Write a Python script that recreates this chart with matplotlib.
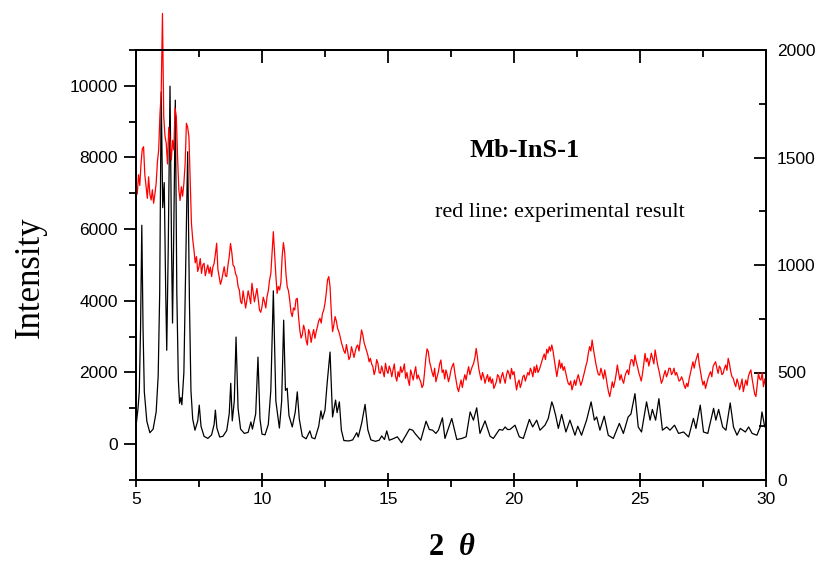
import matplotlib.pyplot as plt
import numpy as np
from matplotlib.ticker import MultipleLocator

plt.rcParams['font.family'] = 'Liberation Sans'

# simulated pattern (black, left axis): 2theta / intensity
black_x = [5.00, 5.08, 5.13, 5.18, 5.23, 5.28, 5.33, 5.43, 5.55, 5.68, 5.80, 5.88, 5.94,
           6.00, 6.06, 6.12, 6.18, 6.22, 6.28, 6.35, 6.41, 6.45, 6.50, 6.56, 6.62, 6.68,
           6.73, 6.78, 6.82, 6.90, 6.97, 7.05, 7.12, 7.18, 7.25, 7.34, 7.45, 7.51, 7.58,
           7.70, 7.85, 8.00, 8.10, 8.15, 8.21, 8.32, 8.45, 8.60, 8.70, 8.76, 8.82, 8.90,
           8.97, 9.05, 9.15, 9.30, 9.45, 9.56, 9.62, 9.75, 9.84, 9.92, 10.00, 10.12, 10.25,
           10.35, 10.45, 10.55, 10.69, 10.78, 10.86, 10.93, 11.00, 11.07, 11.20, 11.32,
           11.40, 11.48, 11.60, 11.75, 11.90, 11.98, 12.10, 12.25, 12.34, 12.40, 12.50,
           12.59, 12.70, 12.80, 12.92, 12.98, 13.07, 13.15, 13.25, 13.45, 13.60, 13.76,
           13.82, 13.96, 14.09, 14.20, 14.32, 14.50, 14.65, 14.75, 14.86, 14.95, 15.05,
           15.20, 15.37, 15.54, 15.85, 15.98, 16.07, 16.30, 16.51, 16.64, 16.77, 16.90,
           17.00, 17.16, 17.26, 17.53, 17.73, 17.93, 18.10, 18.26, 18.39, 18.52, 18.65,
           18.85, 19.05, 19.18, 19.42, 19.55, 19.65, 19.74, 19.84, 20.04, 20.21, 20.37,
           20.61, 20.74, 20.90, 21.03, 21.23, 21.36, 21.50, 21.56, 21.65, 21.76, 21.89,
           22.06, 22.22, 22.42, 22.53, 22.68, 22.88, 23.06, 23.19, 23.28, 23.41, 23.58,
           23.74, 23.94, 24.18, 24.34, 24.53, 24.64, 24.80, 24.93, 25.06, 25.26, 25.40,
           25.49, 25.62, 25.75, 25.89, 26.06, 26.19, 26.37, 26.53, 26.73, 26.93, 27.12,
           27.22, 27.39, 27.52, 27.69, 27.92, 28.01, 28.12, 28.28, 28.41, 28.58, 28.71,
           28.85, 28.98, 29.18, 29.31, 29.45, 29.64, 29.77, 29.84, 29.95, 30.00]
black_y = [500, 1000, 1460, 3200, 6110, 3200, 1460, 640, 320, 420, 900, 1900, 4200,
           9830, 6600, 7300, 4200, 2620, 5500, 9990, 5500, 3380, 6000, 9600, 4200, 1800,
           1140, 1300, 1100, 2000, 4800, 8160, 4000, 1500, 700, 390, 650, 1090, 500,
           220, 160, 260, 550, 950, 450, 200, 220, 380, 850, 1700, 650, 1200,
           2990, 1000, 420, 300, 330, 620, 420, 850, 2430, 700, 280, 260, 550,
           1500, 4280, 1200, 450, 1200, 3460, 1500, 1560, 800, 480, 900,
           1460, 700, 220, 150, 370, 180, 150, 500, 930, 700, 950,
           1740, 2570, 760, 1230, 880, 1180, 390, 100, 90, 120, 320,
           200, 600, 1110, 400, 120, 80, 110, 230, 130, 370, 110,
           150, 205, 40, 420, 390, 300, 110, 640, 410, 390, 300,
           390, 735, 160, 716, 130, 160, 205, 900, 670, 1014, 300,
           650, 220, 160, 410, 390, 480, 410, 410, 530, 205, 160,
           690, 480, 670, 390, 530, 716, 1180, 1060, 810, 440, 830,
           340, 670, 250, 500, 250, 670, 1180, 670, 760, 390, 780,
           250, 160, 580, 300, 760, 840, 1410, 480, 340, 1180, 670,
           970, 670, 1270, 390, 480, 390, 530, 300, 340, 200, 720,
           440, 1090, 340, 300, 1000, 670, 970, 480, 390, 1150, 480,
           250, 440, 340, 480, 300, 250, 480, 900, 480, 600]

# experimental pattern (red, right axis), one value every 0.05 deg from 5 to 30
red_y = [
    1380, 1330, 1420, 1370, 1473, 1540, 1550, 1420, 1364, 1310, 1410, 1330, 1302, 1350, 1287, 1330, 1380, 1480, 1535, 1700,
    1800, 2170, 1692, 1600, 1566, 1470, 1640, 1580, 1488, 1580, 1535, 1730, 1690, 1500, 1349, 1300, 1364, 1320, 1380, 1470,
    1659, 1640, 1597, 1400, 1194, 1120, 1070, 1010, 1039, 970, 992, 1030, 961, 1000, 1008, 950, 977, 1000, 961, 990,
    946, 990, 1008, 1050, 1101, 980, 946, 910, 930, 960, 992, 950, 946, 1000, 1039, 1100, 1060, 1000, 992, 960,
    946, 900, 884, 830, 820, 880, 840, 800, 837, 880, 853, 820, 915, 870, 829, 860, 891, 840, 791, 780,
    806, 850, 829, 800, 853, 880, 930, 960, 1060, 1155, 1050, 950, 868, 900, 884, 920, 1039, 1104, 1060, 960,
    899, 880, 837, 780, 760, 800, 791, 840, 845, 760, 698, 660, 675, 720, 698, 650, 628, 700, 682, 640,
    675, 700, 659, 690, 713, 740, 752, 730, 775, 790, 822, 870, 930, 946, 900, 780, 690, 720, 760, 740,
    705, 690, 667, 640, 620, 600, 589, 630, 597, 560, 573, 620, 597, 570, 597, 620, 628, 600, 651, 698,
    675, 640, 620, 600, 581, 550, 566, 540, 527, 490, 512, 560, 543, 500, 496, 530, 504, 480, 543, 510,
    496, 530, 512, 480, 512, 540, 481, 460, 504, 480, 527, 500, 512, 540, 473, 500, 465, 440, 512, 490,
    465, 500, 527, 470, 488, 470, 457, 430, 442, 500, 566, 610, 597, 550, 527, 500, 481, 520, 457, 480,
    504, 540, 558, 500, 512, 470, 512, 490, 457, 480, 512, 530, 543, 500, 465, 430, 411, 440, 465, 430,
    465, 490, 465, 500, 527, 490, 512, 530, 543, 570, 612, 570, 520, 490, 465, 500, 481, 450, 473, 490,
    457, 480, 450, 470, 426, 440, 457, 490, 481, 450, 481, 500, 473, 450, 488, 510, 496, 470, 519, 490,
    504, 460, 419, 450, 465, 430, 450, 480, 488, 460, 481, 500, 488, 520, 504, 480, 527, 500, 535, 500,
    512, 530, 550, 570, 586, 560, 608, 590, 620, 600, 628, 600, 558, 520, 481, 520, 558, 520, 543, 510,
    527, 500, 473, 450, 442, 460, 419, 440, 465, 440, 470, 490, 465, 440, 457, 480, 504, 530, 550, 590,
    620, 600, 651, 610, 574, 540, 512, 490, 488, 520, 496, 470, 512, 480, 442, 410, 388, 420, 457, 430,
    457, 490, 535, 500, 465, 490, 465, 450, 481, 500, 512, 490, 535, 560, 558, 530, 581, 550, 527, 500,
    481, 460, 496, 540, 589, 550, 566, 530, 558, 590, 566, 540, 605, 570, 535, 510, 481, 450, 465, 490,
    509, 480, 496, 520, 519, 490, 500, 520, 488, 500, 481, 460, 465, 480, 465, 440, 426, 450, 434, 470,
    496, 520, 550, 520, 550, 570, 589, 540, 504, 470, 442, 460, 426, 450, 473, 490, 504, 480, 527, 540,
    550, 520, 496, 530, 519, 490, 496, 520, 535, 510, 566, 540, 504, 480, 473, 450, 434, 470, 450, 420,
    442, 470, 411, 440, 465, 440, 481, 500, 512, 470, 434, 400, 388, 440, 496, 470, 465, 500, 434, 470,
    430]
red_x = np.linspace(5, 30, len(red_y))

fig = plt.figure(figsize=(8.21, 5.67), dpi=100)
ax = fig.add_axes([136 / 821, 1 - 480 / 567, 630 / 821, 430 / 567])
ax.plot(black_x, black_y, color='black', lw=0.9)
ax.set_xlim(5, 30)
ax.set_ylim(-1000, 11000)
ax.set_xticks(range(5, 31, 5))
ax.xaxis.set_minor_locator(MultipleLocator(2.5))
ax.set_yticks(range(0, 10001, 2000))
ax.yaxis.set_minor_locator(MultipleLocator(1000))
ax.tick_params(axis='x', which='major', direction='inout', length=10, width=1.3,
               labelsize=12.5, pad=4)
ax.tick_params(axis='x', which='minor', direction='out', length=5, width=1.3)
ax.tick_params(axis='y', which='major', direction='out', length=9, width=1.3,
               labelsize=12.5, pad=4)
ax.tick_params(axis='y', which='minor', direction='out', length=5, width=1.3)

top = ax.secondary_xaxis('top')
top.set_xticks(range(5, 31, 5))
top.xaxis.set_minor_locator(MultipleLocator(2.5))
top.tick_params(which='major', direction='in', length=9, width=1.3, labeltop=False)
top.tick_params(which='minor', direction='in', length=5, width=1.3)
top.spines['top'].set_linewidth(1.4)

ax2 = ax.twinx()
ax2.plot(red_x, red_y, color='red', lw=0.9, clip_on=False)
ax2.set_ylim(0, 2000)
ax2.set_yticks(range(0, 2001, 500))
ax2.yaxis.set_minor_locator(MultipleLocator(250))
ax2.tick_params(axis='y', which='major', direction='in', length=9, width=1.3,
                labelsize=12.5, pad=8)
ax2.tick_params(axis='y', which='minor', direction='in', length=5, width=1.3)

for a in (ax, ax2):
    for s in a.spines.values():
        s.set_linewidth(1.4)

fig.text(0.037, 0.511, 'Intensity', rotation=90, ha='center', va='center',
         family='Liberation Serif', fontsize=25)
fig.text(0.532, 0.035, '2', ha='center', va='center', family='Liberation Serif',
         fontsize=22, fontweight='bold')
fig.text(0.568, 0.035, 'θ', ha='center', va='center', family='Liberation Serif',
         fontsize=22, fontweight='bold', style='italic')
fig.text(0.639, 0.735, 'Mb-InS-1', ha='center', va='center', family='Liberation Serif',
         fontsize=19, fontweight='bold')
fig.text(0.682, 0.626, 'red line: experimental result', ha='center', va='center',
         family='Liberation Serif', fontsize=16)

fig.savefig('out.png', dpi=100)
